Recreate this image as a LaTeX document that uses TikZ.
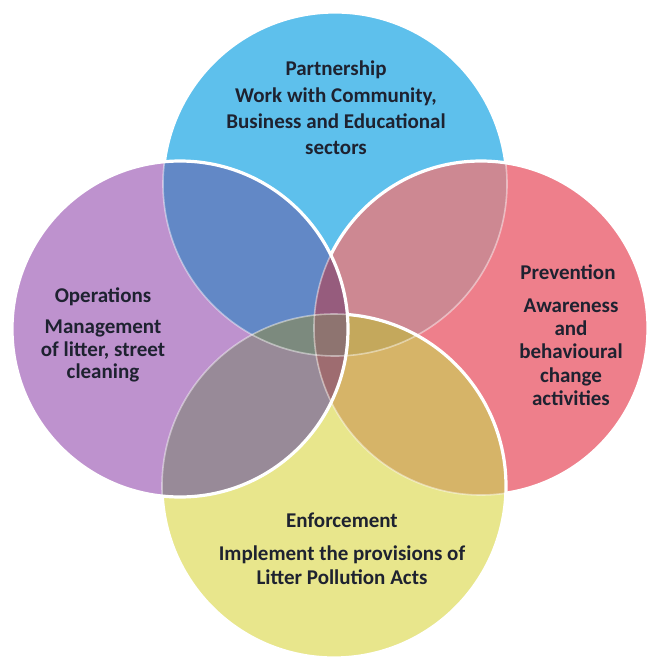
\documentclass[tikz,border=0pt]{standalone}
\usepackage{fontspec}
\setmainfont{Carlito}
\definecolor{cT}{RGB}{94,192,236}
\definecolor{cR}{RGB}{238,127,139}
\definecolor{cB}{RGB}{232,230,140}
\definecolor{cL}{RGB}{190,146,206}
\definecolor{cTL}{RGB}{98,136,198}
\definecolor{cTR}{RGB}{205,136,146}
\definecolor{cBL}{RGB}{152,138,152}
\definecolor{cBR}{RGB}{214,180,104}
\definecolor{cTLR}{RGB}{150,92,125}
\definecolor{cTLB}{RGB}{124,138,126}
\definecolor{cTRB}{RGB}{196,168,92}
\definecolor{cLRB}{RGB}{158,108,112}
\definecolor{cQ}{RGB}{142,116,112}
\definecolor{txt}{RGB}{30,34,48}
\tikzset{
  ttl/.style={inner sep=0pt, text=txt, font=\bfseries\fontsize{21}{24}\selectfont},
  desc/.style={inner sep=0pt, text=txt, align=center, font=\bfseries\fontsize{21}{#1}\selectfont},
  pale/.style={draw=white, draw opacity=0.45, line width=1.6pt},
  rim/.style={draw=white, line width=3.2pt}
}
\begin{document}
\begin{tikzpicture}[x=1pt,y=-1pt]
\useasboundingbox (0,0) rectangle (649,662);
\def\cirT{(335,184) circle[radius=172pt]}
\def\cirR{(481,328) circle[radius=167pt]}
\def\cirB{(334,486) circle[radius=172pt]}
\def\cirL{(180,329) circle[radius=168pt]}
\def\bigbox{(-20,-20) rectangle (680,690)}
% single fills
\fill[cT] \cirT;
\fill[cR] \cirR;
\fill[cB] \cirB;
\fill[cL] \cirL;
% pair fills
\begin{scope}\clip \cirT; \fill[cTL] \cirL; \fill[cTR] \cirR; \end{scope}
\begin{scope}\clip \cirB; \fill[cBL] \cirL; \fill[cBR] \cirR; \end{scope}
% triple fills
\begin{scope}\clip \cirT; \clip \cirL; \fill[cTLR] \cirR; \fill[cTLB] \cirB; \end{scope}
\begin{scope}\clip \cirT; \clip \cirR; \fill[cTRB] \cirB; \end{scope}
\begin{scope}\clip \cirL; \clip \cirR; \fill[cLRB] \cirB; \end{scope}
% quadruple
\begin{scope}\clip \cirT; \clip \cirL; \clip \cirR; \fill[cQ] \cirB; \end{scope}
% pale rims (covered parts)
\path[pale] \cirT; \path[pale] \cirR; \path[pale] \cirB; \path[pale] \cirL;
% white rims on exposed parts
\begin{scope}[even odd rule]
  \clip \bigbox \cirL;
  \begin{scope}[even odd rule]
    \clip \bigbox \cirB;
    \begin{scope}[even odd rule]
      \clip \bigbox \cirR;
      \path[rim] \cirT;
    \end{scope}
    \path[rim] \cirR;
  \end{scope}
  \path[rim] \cirB;
\end{scope}
\path[rim] \cirL;
% texts
\node[ttl] (tT) at (336,70) {Partnership};
\node[desc=26] (dT) at (336,121) {Work with Community,\\Business and Educational\\sectors};
\node[ttl] (tL) at (103,297) {Operations};
\node[desc=22.5] (dL) at (103,351) {Management\\of litter, street\\cleaning};
\node[ttl] (tR) at (568,272) {Prevention};
\node[desc=23.3] (dR) at (571,352) {Awareness\\and\\behavioural\\change\\activities};
\node[ttl] (tB) at (342,520) {Enforcement};
\node[desc=24] (dB) at (342,565) {Implement the provisions of\\Litter Pollution Acts};
\end{tikzpicture}
\end{document}
